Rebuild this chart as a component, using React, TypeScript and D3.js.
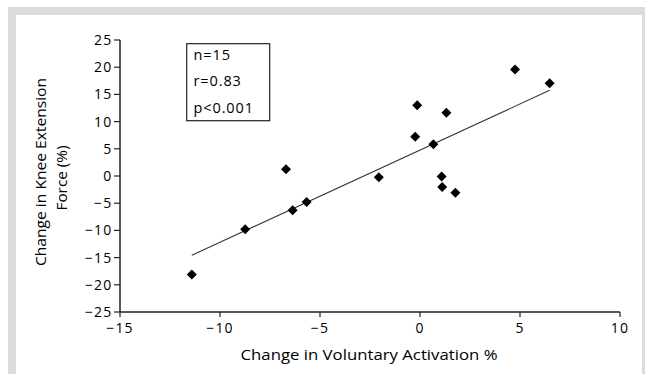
import React from "react";
import * as d3 from "d3";

const activation = [-11.41, -8.74, -6.70, -6.37, -5.67, -2.06, -0.24, -0.14, 0.67, 1.08, 1.11, 1.32, 1.77, 4.75, 6.48];
const force = [-18.1, -9.8, 1.23, -6.3, -4.78, -0.24, 7.23, 13.0, 5.83, -0.1, -2.0, 11.64, -3.07, 19.6, 17.03];
const trendX = [-11.41, 6.48];
const trendY = [-14.58, 15.75];
const xTicks = [-15, -10, -5, 0, 5, 10];
const yTicks = [25, 20, 15, 10, 5, 0, -5, -10, -15, -20, -25];
const statsLines = ["n=15", "r=0.83", "p<0.001"];

const FONT = "'Open Sans', 'Noto Sans', sans-serif";
const fmt = (v: number) => (v < 0 ? "\u2212" + Math.abs(v) : String(v));

export default function App() {
  const x = d3.scaleLinear().domain([-15, 10]).range([120, 620]);
  const y = d3.scaleLinear().domain([-25, 25]).range([312, 40]);
  const diamond = d3.symbol().type(d3.symbolSquare).size(50)() as string;
  const trend = d3
    .line<number>()
    .x((d) => x(trendX[d]))
    .y((d) => y(trendY[d]))([0, 1]) as string;

  return (
    <svg width={645} height={374} style={{ position: "absolute", left: 0, top: 0 }} fontFamily={FONT}>
      <rect x={8} y={7} width={637} height={367} fill="#dcdcdc" />
      <rect x={16} y={15} width={626} height={359} fill="#ffffff" />

      {/* stats box */}
      <rect x={186.7} y={43.7} width={83} height={77} fill="white" stroke="#222" strokeWidth={1.2} />
      {statsLines.map((s, i) => (
        <text key={s} x={193.5} y={59.5 + i * 26.5} fontSize={14.5} letterSpacing={0.9} fill="#000">
          {s}
        </text>
      ))}

      {/* trend line */}
      <path d={trend} stroke="#333" strokeWidth={1.1} fill="none" />

      {/* points */}
      {activation.map((a, i) => (
        <path key={i} d={diamond} transform={`translate(${x(a)},${y(force[i])}) rotate(45)`} fill="#000" />
      ))}

      {/* y axis */}
      <line x1={x(-15)} x2={x(-15)} y1={y(25)} y2={y(-25)} stroke="#222" strokeWidth={1.5} />
      {yTicks.map((t) => (
        <g key={t}>
          <line x1={x(-15) - 6} x2={x(-15)} y1={y(t)} y2={y(t)} stroke="#222" strokeWidth={1.2} />
          <text x={x(-15) - 7.5} y={y(t)} dy="0.36em" textAnchor="end" fontSize={14} letterSpacing={1.2} fill="#000">
            {fmt(t)}
          </text>
        </g>
      ))}

      {/* x axis */}
      <line x1={x(-15)} x2={x(10)} y1={y(-25)} y2={y(-25)} stroke="#222" strokeWidth={1.5} />
      {xTicks.map((t) => (
        <g key={t}>
          <line x1={x(t)} x2={x(t)} y1={y(-25)} y2={y(-25) + 5} stroke="#222" strokeWidth={1.2} />
          <text x={x(t)} y={333} textAnchor="middle" fontSize={14} letterSpacing={1.2} fill="#000">
            {fmt(t)}
          </text>
        </g>
      ))}

      <text x={369} y={360} textAnchor="middle" fontSize={15} fill="#000" textLength={257} lengthAdjust="spacingAndGlyphs">
        Change in Voluntary Activation %
      </text>
      <g transform="translate(45.5,172) rotate(-90)">
        <text x={0} y={0} textAnchor="middle" fontSize={15} fill="#000" textLength={188} lengthAdjust="spacingAndGlyphs">
          Change in Knee Extension
        </text>
        <text x={-6} y={21.5} textAnchor="middle" fontSize={15} fill="#000" textLength={65} lengthAdjust="spacingAndGlyphs">
          Force (%)
        </text>
      </g>
    </svg>
  );
}
